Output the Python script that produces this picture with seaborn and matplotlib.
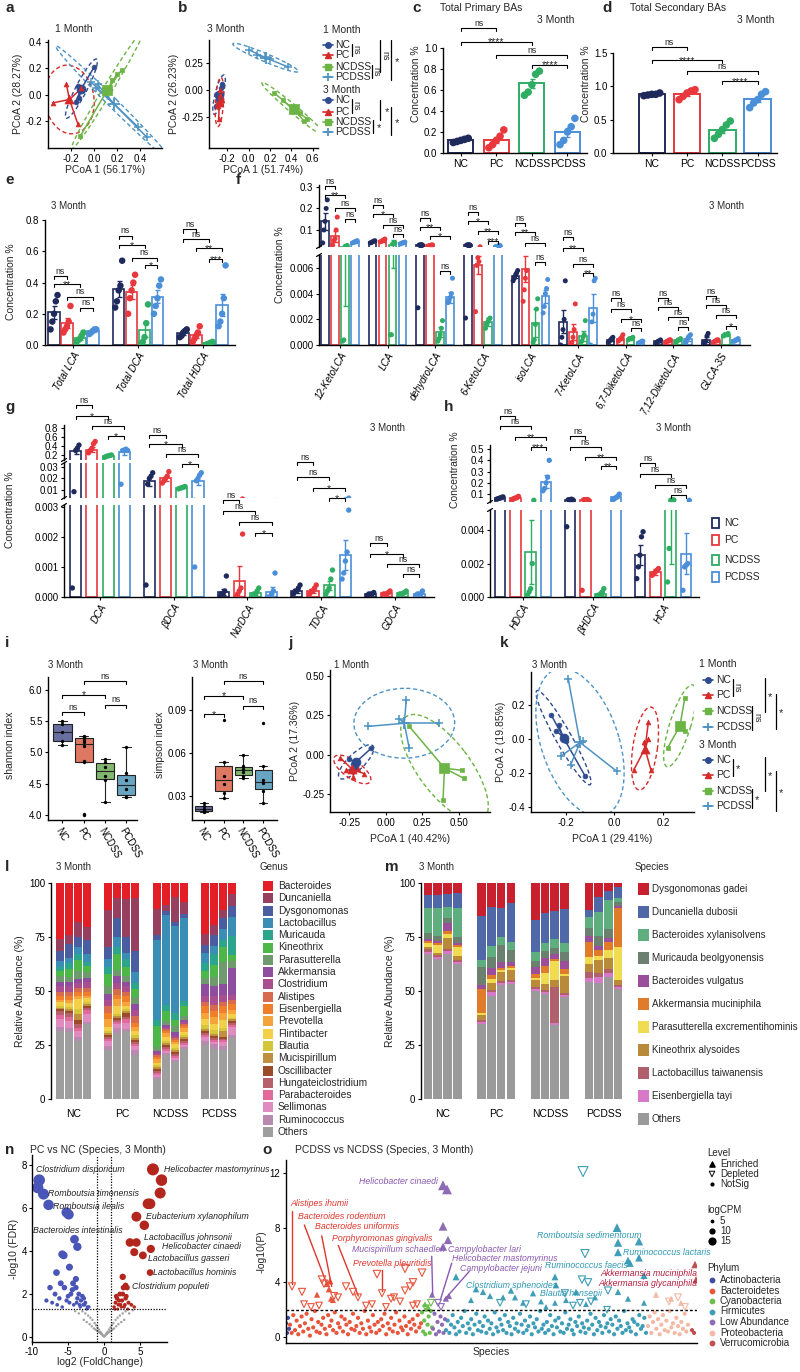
import numpy as np
import pandas as pd
import matplotlib
matplotlib.use("Agg")
import matplotlib.pyplot as plt
import matplotlib.transforms as mtransforms
from matplotlib.patches import Ellipse, Rectangle
import seaborn as sns

sns.set_theme(style="ticks")
plt.rcParams["font.family"] = ["Liberation Sans", "DejaVu Sans"]
plt.rcParams["axes.unicode_minus"] = False

# ============================ DATA ============================
GROUPS = ["NC", "PC", "NCDSS", "PCDSS"]

# a / b : PCoA of bile-acid profiles
a_pts = {
    "NC": [(0.00, 0.21), (-0.12, 0.03), (-0.16, -0.05), (-0.14, 0.07), (-0.13, -0.02)],
    "PC": [(-0.36, -0.06), (-0.14, -0.22), (-0.24, 0.08), (-0.11, 0.05), (-0.22, -0.02)],
    "NCDSS": [(-0.12, -0.31), (0.24, 0.19), (0.20, 0.16), (0.16, 0.11), (0.10, 0.04)],
    "PCDSS": [(0.46, -0.32), (0.38, -0.24), (0.03, 0.08), (-0.03, 0.10), (0.02, 0.05)],
}
b_pts = {
    "NC": [(-0.30, -0.15), (-0.25, 0.05), (-0.28, -0.05), (-0.26, 0.02), (-0.29, -0.10)],
    "PC": [(-0.28, -0.27), (-0.27, -0.05), (-0.29, -0.15), (-0.25, -0.10), (-0.27, 0.00)],
    "NCDSS": [(0.24, -0.03), (0.52, -0.29), (0.48, -0.22), (0.32, -0.10), (0.55, -0.27)],
    "PCDSS": [(0.00, 0.37), (0.37, 0.21), (0.15, 0.30), (0.08, 0.32), (0.20, 0.28)],
}

# c / d : total primary / secondary BAs
c_pts = {"NC": [0.10, 0.11, 0.12, 0.13, 0.14], "PC": [0.05, 0.08, 0.12, 0.16, 0.22],
         "NCDSS": [0.55, 0.58, 0.65, 0.75, 0.78], "PCDSS": [0.08, 0.12, 0.20, 0.25, 0.33]}
d_pts = {"NC": [0.86, 0.87, 0.88, 0.88, 0.90], "PC": [0.80, 0.85, 0.90, 0.93, 0.95],
         "NCDSS": [0.22, 0.28, 0.35, 0.42, 0.48], "PCDSS": [0.68, 0.75, 0.80, 0.88, 0.92]}
c_sig = ["ns", "****", "ns", "****"]
d_sig = ["ns", "****", "ns", "****"]

# e
e_labels = ["Total LCA", "Total DCA", "Total HDCA"]
e_pts = {
    "NC": [[0.10, 0.15, 0.20, 0.28, 0.32], [0.24, 0.28, 0.35, 0.38, 0.54], [0.05, 0.06, 0.08, 0.09, 0.10]],
    "PC": [[0.08, 0.10, 0.12, 0.15, 0.25], [0.20, 0.30, 0.35, 0.40, 0.45], [0.02, 0.04, 0.06, 0.08, 0.12]],
    "NCDSS": [[0.02, 0.03, 0.04, 0.06, 0.08], [0.01, 0.02, 0.05, 0.14, 0.26], [0.00, 0.005, 0.01, 0.015, 0.02]],
    "PCDSS": [[0.07, 0.08, 0.09, 0.10, 0.10], [0.20, 0.25, 0.30, 0.38, 0.42], [0.12, 0.15, 0.20, 0.30, 0.51]],
}
e_sig = [["ns", "**", "ns", "ns"], ["ns", "*", "ns", "*"], ["ns", "ns", "**", "***"]]

# f
f_labels = ["12-KetoLCA", "LCA", "dehydroLCA", "6-KetoLCA", "isoLCA", "7-KetoLCA",
            "6,7-DiketoLCA", "7,12-DiketoLCA", "GLCA-3S"]
f_mean = {"NC": [0.14, 0.045, 0.028, 0.028, 0.0054, 0.0018, 0.0004, 0.0003, 0.0004],
          "PC": [0.07, 0.050, 0.028, 0.0062, 0.0059, 0.0010, 0.0005, 0.0003, 0.0003],
          "NCDSS": [0.020, 0.030, 0.0010, 0.0018, 0.0017, 0.0007, 0.0005, 0.0004, 0.0008],
          "PCDSS": [0.045, 0.040, 0.0037, 0.025, 0.0038, 0.0029, 0.0002, 0.0005, 0.0004]}
f_err = {"NC": [0.04, 0.003, 0.005, 0.005, 0.0002, 0.0009, 0.0001, 0.0001, 0.0002],
         "PC": [0.025, 0.004, 0.002, 0.0007, 0.0010, 0.0006, 0.0001, 0.0001, 0.0001],
         "NCDSS": [0.017, 0.024, 0.0004, 0.0003, 0.0011, 0.0004, 0.0001, 0.0001, 0.0001],
         "PCDSS": [0.004, 0.004, 0.0004, 0.003, 0.0005, 0.0011, 0.0001, 0.0002, 0.0001]}
f_pts = {
    "NC": [[0.04, 0.10, 0.14, 0.20, 0.24], [0.040, 0.042, 0.045, 0.048, 0.050],
           [0.0029, 0.030, 0.031, 0.032, 0.030], [0.0021, 0.030, 0.031, 0.032, 0.030],
           [0.0050, 0.0052, 0.0054, 0.0056, 0.0058], [0.0000, 0.0006, 0.0012, 0.0020, 0.0050],
           [0.0002, 0.0003, 0.0004, 0.0005, 0.0006], [0.0001, 0.0002, 0.0003, 0.0003, 0.0004],
           [0.0001, 0.0002, 0.0003, 0.0007, 0.0009]],
    "PC": [[0.03, 0.05, 0.06, 0.10, 0.16], [0.045, 0.048, 0.050, 0.055, 0.058],
           [0.025, 0.027, 0.028, 0.030, 0.031], [0.0026, 0.0062, 0.0068, 0.0065, 0.022],
           [0.0034, 0.0043, 0.0052, 0.0058, 0.0080], [0.0000, 0.0002, 0.0006, 0.0012, 0.0032],
           [0.0003, 0.0004, 0.0005, 0.0006, 0.0008], [0.0002, 0.0003, 0.0003, 0.0004, 0.0004],
           [0.0002, 0.0003, 0.0003, 0.0004, 0.0004]],
    "NCDSS": [[0.0003, 0.0004, 0.022, 0.025, 0.028], [0.0008, 0.0008, 0.035, 0.038, 0.040],
              [0.0003, 0.0005, 0.0008, 0.0013, 0.0019], [0.0013, 0.0016, 0.0018, 0.0020, 0.0021],
              [0.0002, 0.0004, 0.0016, 0.0028, 0.0036], [0.0000, 0.0003, 0.0006, 0.0008, 0.0019],
              [0.0004, 0.0005, 0.0005, 0.0005, 0.0006], [0.0002, 0.0003, 0.0004, 0.0004, 0.0005],
              [0.0007, 0.0008, 0.0008, 0.0008, 0.0009]],
    "PCDSS": [[0.040, 0.043, 0.045, 0.048, 0.050], [0.035, 0.038, 0.040, 0.042, 0.044],
              [0.0033, 0.0035, 0.0037, 0.0040, 0.0052], [0.022, 0.024, 0.025, 0.026, 0.028],
              [0.0025, 0.0030, 0.0040, 0.0044, 0.0051], [0.0000, 0.0018, 0.0024, 0.0050, 0.0052],
              [0.0001, 0.0002, 0.0002, 0.0003, 0.0003], [0.0002, 0.0004, 0.0006, 0.0007, 0.0008],
              [0.0003, 0.0003, 0.0004, 0.0004, 0.0005]],
}
f_sig = [["ns", "**", "ns", "ns"], ["ns", "*", "ns", "ns"], ["ns", "**", "*", "ns"],
         ["ns", "*", "**", "***"], ["ns", "**", "ns", "ns"], ["ns", "**", "ns", "**"],
         ["ns", "ns", "*", "ns"], ["ns", "ns", "ns", "ns"], ["ns", "ns", "ns", "*"]]

# g
g_labels = ["DCA", "βDCA", "NorDCA", "TDCA", "GDCA"]
g_mean = {"NC": [0.28, 0.0175, 0.00018, 0.0002, 0.0001], "PC": [0.32, 0.020, 0.00052, 0.0002, 0.00012],
          "NCDSS": [0.18, 0.012, 0.00012, 0.0004, 0.00012], "PCDSS": [0.26, 0.018, 0.00018, 0.0014, 0.0001]}
g_err = {"NC": [0.06, 0.004, 0.0001, 0.00005, 0.00002], "PC": [0.05, 0.002, 0.0005, 0.00005, 0.00002],
         "NCDSS": [0.01, 0.0005, 0.00005, 0.00015, 0.00002], "PCDSS": [0.06, 0.004, 0.00015, 0.0005, 0.00003]}
g_pts = {
    "NC": [[0.0003, 0.0085, 0.30, 0.35, 0.42], [0.0004, 0.015, 0.020, 0.022, 0.025],
           [0.0, 0.0001, 0.0001, 0.0002, 0.0007], [0.0001, 0.0002, 0.0002, 0.0003, 0.0004],
           [0.00005, 0.0001, 0.0001, 0.0001, 0.00015]],
    "PC": [[0.25, 0.30, 0.35, 0.45, 0.50], [0.016, 0.018, 0.020, 0.022, 0.026],
           [0.0, 0.0001, 0.0002, 0.0003, 0.0021], [0.0001, 0.0002, 0.0002, 0.0003, 0.0004],
           [0.0001, 0.0001, 0.0001, 0.00015, 0.0002]],
    "NCDSS": [[0.15, 0.17, 0.18, 0.19, 0.20], [0.011, 0.0115, 0.012, 0.0125, 0.013],
              [0.0, 0.0001, 0.0001, 0.0002, 0.0003], [0.0001, 0.0002, 0.0003, 0.0006, 0.0009],
              [0.0001, 0.0001, 0.00012, 0.00015, 0.0002]],
    "PCDSS": [[0.015, 0.30, 0.31, 0.33, 0.30], [0.001, 0.018, 0.020, 0.023, 0.025],
              [0.0, 0.0, 0.0001, 0.0002, 0.0008], [0.0006, 0.0008, 0.0012, 0.0015, 0.0029],
              [0.00005, 0.0001, 0.0001, 0.0001, 0.0002]],
}
g_sig = [["ns", "*", "ns", "*"], ["ns", "*", "ns", "*"], ["ns", "ns", "ns", "*"],
         ["ns", "ns", "*", "*"], ["ns", "*", "ns", "ns"]]

# h
h_labels = ["HDCA", "βHDCA", "HCA"]
h_mean = {"NC": [0.065, 0.050, 0.0025], "PC": [0.065, 0.050, 0.0015],
          "NCDSS": [0.0027, 0.0002, 0.012], "PCDSS": [0.21, 0.075, 0.0026]}
h_err = {"NC": [0.005, 0.010, 0.0006], "PC": [0.006, 0.005, 0.0002],
         "NCDSS": [0.0019, 0.0001, 0.010], "PCDSS": [0.060, 0.010, 0.0012]}
h_pts = {
    "NC": [[0.055, 0.060, 0.065, 0.070, 0.075], [0.0042, 0.050, 0.050, 0.055, 0.048], [0.0011, 0.0018, 0.0025, 0.0036, 0.0039]],
    "PC": [[0.050, 0.060, 0.065, 0.070, 0.080], [0.0004, 0.050, 0.050, 0.052, 0.048], [0.0013, 0.0014, 0.0015, 0.0016, 0.0017]],
    "NCDSS": [[0.0001, 0.0003, 0.0005, 0.0020, 0.045], [0.0001, 0.0001, 0.0002, 0.0003, 0.0005], [0.0009, 0.0029, 0.045, 0.050, 0.048]],
    "PCDSS": [[0.13, 0.15, 0.20, 0.25, 0.40], [0.050, 0.060, 0.070, 0.080, 0.10], [0.0004, 0.0018, 0.0019, 0.0020, 0.045]],
}
h_sig = [["ns", "ns", "**", "***"], ["ns", "ns", "**", "**"], ["ns", "ns", "ns", "ns"]]

# i : alpha diversity
shannon = {"NC": [5.12, 5.18, 5.32, 5.45, 5.50],
           "PC": [4.00, 4.01, 4.84, 4.86, 5.10, 5.16, 5.20, 5.24, 5.25, 5.26],
           "NCDSS": [4.20, 4.55, 4.62, 4.77, 4.85, 4.89],
           "PCDSS": [4.28, 4.29, 4.41, 4.55, 4.67, 5.09]}
simpson = {"NC": [0.019, 0.020, 0.021, 0.023, 0.025],
           "PC": [0.0286, 0.032, 0.0384, 0.044, 0.0537, 0.083],
           "NCDSS": [0.043, 0.044, 0.047, 0.049, 0.051, 0.0586],
           "PCDSS": [0.025, 0.034, 0.039, 0.041, 0.051, 0.081]}
shannon_sig = [("ns", 0, 1, 5.64), ("*", 0, 2, 5.92), ("ns", 2, 3, 5.76), ("ns", 1, 3, 6.13)]
simpson_sig = [("*", 0, 1, 0.087), ("*", 0, 2, 0.100), ("ns", 2, 3, 0.093), ("ns", 1, 3, 0.110)]

# j / k : PCoA of microbiota
j_pts = {
    "NC": [(-0.10, 0.04), (-0.22, -0.06), (-0.25, -0.03), (-0.20, -0.08), (-0.24, -0.10)],
    "PC": [(-0.31, -0.02), (-0.15, -0.12), (-0.22, -0.14), (-0.27, -0.10), (-0.19, -0.09)],
    "NCDSS": [(0.16, 0.18), (0.52, -0.10), (0.53, -0.15), (0.39, -0.29), (0.40, -0.07)],
    "PCDSS": [(-0.12, 0.18), (0.14, 0.35), (0.16, 0.04), (0.36, 0.20), (0.09, 0.23)],
}
k_pts = {
    "NC": [(-0.26, 0.14), (-0.12, -0.22), (-0.23, 0.08), (-0.20, -0.01), (-0.24, 0.05)],
    "PC": [(0.14, 0.10), (0.08, -0.18), (0.15, -0.18), (0.12, -0.02), (0.14, 0.00)],
    "NCDSS": [(0.29, 0.24), (0.22, -0.05), (0.29, 0.05), (0.28, 0.07)],
    "PCDSS": [(-0.19, 0.35), (0.01, -0.19), (-0.22, -0.10), (-0.18, -0.15), (-0.13, -0.01)],
}

# l : genus composition (16 samples: NC1-4, PC1-4, NCDSS1-4, PCDSS1-4)
genus = {
    "Bacteroides": [29, 27, 21, 22, 13, 7, 8, 7, 13, 11, 7, 10, 26, 20, 15, 6],
    "Duncaniella": [6, 5, 8, 7, 18, 10, 20, 25, 13, 3, 13, 6, 6, 5, 4, 6],
    "Dysgonomonas": [5, 7, 5, 7, 6, 9, 8, 10, 2, 2, 2, 2, 4, 5, 6, 6],
    "Lactobacillus": [3, 3, 4, 4, 4, 5, 3, 5, 40, 45, 44, 43, 5, 4, 6, 10],
    "Muricauda": [2, 3, 3, 2, 3, 3, 4, 3, 3, 3, 4, 3, 4, 5, 4, 10],
    "Kineothrix": [3, 4, 6, 3, 6, 8, 5, 4, 10, 5, 3, 5, 4, 6, 8, 3],
    "Parasutterella": [3, 3, 4, 3, 4, 3, 3, 3, 2, 2, 3, 2, 3, 4, 12, 4],
    "Akkermansia": [2, 2, 2, 2, 3, 3, 2, 3, 1, 1, 2, 1, 6, 5, 6, 14],
    "Clostridium": [3, 3, 3, 3, 3, 3, 3, 3, 1, 1, 1, 1, 3, 4, 4, 3],
    "Alistipes": [2, 2, 2, 2, 3, 3, 2, 3, 1, 1, 1, 1, 2, 3, 2, 2],
    "Eisenbergiella": [2, 2, 2, 2, 3, 2, 3, 2, 1, 1, 1, 1, 4, 3, 4, 3],
    "Prevotella": [1, 2, 2, 1, 4, 3, 2, 2, 2, 2, 1, 2, 3, 3, 4, 2],
    "Flintibacter": [2, 2, 5, 2, 2, 4, 2, 2, 1, 2, 2, 2, 3, 3, 4, 2],
    "Blautia": [1, 1, 3, 1, 1, 1, 1, 1, 1, 1, 1, 1, 2, 2, 2, 1],
    "Mucispirillum": [1, 1, 3, 1, 1, 1, 1, 1, 1, 1, 1, 1, 1, 1, 3, 1],
    "Oscillibacter": [1, 1, 2, 1, 1, 1, 2, 1, 1, 1, 1, 1, 1, 1, 1, 1],
    "Hungateiclostridium": [2, 2, 2, 1, 1, 1, 1, 1, 1, 1, 1, 1, 1, 1, 1, 1],
    "Parabacteroides": [2, 2, 2, 2, 1, 1, 2, 1, 1, 1, 1, 1, 1, 1, 1, 1],
    "Sellimonas": [4, 4, 3, 4, 2, 2, 3, 2, 1, 1, 1, 1, 2, 1, 2, 4],
    "Ruminococcus": [2, 2, 2, 1, 2, 2, 1, 2, 1, 1, 1, 1, 2, 2, 2, 2],
    "Others": [35, 35, 31, 38, 24, 32, 35, 21, 10, 22, 19, 26, 28, 24, 27, 32],
}
# m : species composition
species = {
    "Dysgonomonas gadei": [6, 6, 5, 5, 16, 11, 12, 10, 17, 14, 15, 12, 14, 7, 4, 2],
    "Duncaniella dubosii": [6, 6, 6, 7, 22, 18, 14, 20, 15, 14, 15, 16, 4, 7, 4, 5],
    "Bacteroides xylanisolvens": [12, 14, 5, 14, 3, 5, 4, 4, 4, 4, 5, 4, 6, 12, 14, 2],
    "Muricauda beolgyonensis": [3, 2, 2, 3, 9, 5, 8, 6, 3, 3, 3, 4, 4, 5, 4, 2],
    "Bacteroides vulgatus": [1, 1, 4, 1, 2, 3, 3, 2, 3, 4, 3, 4, 3, 2, 2, 1],
    "Akkermansia muciniphila": [1, 1, 1, 1, 12, 2, 1, 1, 2, 3, 1, 2, 8, 3, 4, 18],
    "Parasutterella excrementihominis": [2, 4, 2, 4, 1, 2, 1, 1, 1, 5, 10, 1, 4, 2, 4, 16],
    "Kineothrix alysoides": [1, 1, 5, 2, 2, 3, 4, 5, 3, 3, 4, 8, 4, 6, 5, 2],
    "Lactobacillus taiwanensis": [1, 1, 1, 1, 1, 1, 1, 1, 1, 1, 19, 1, 3, 2, 2, 1],
    "Eisenbergiella tayi": [1, 1, 1, 1, 1, 2, 1, 1, 1, 1, 1, 1, 2, 3, 2, 1],
    "Others": [70, 68, 66, 65, 37, 47, 55, 58, 50, 49, 40, 47, 62, 57, 58, 52],
}

# n : volcano PC vs NC
n_ns_x = [-3.0, -2.6, -2.2, -1.9, -1.6, -1.3, -1.1, -0.9, -0.7, -0.5, -0.35, -0.2, -0.1, 0.0, 0.1, 0.2, 0.35,
          0.5, 0.7, 0.9, 1.1, 1.3, 1.6, 1.9, 2.2, 2.6, 3.0, -2.8, -2.4, -2.0, -1.7, -1.4, -1.2, -0.8, -0.6,
          -0.3, 0.3, 0.6, 0.8, 1.2, 1.4, 1.7, 2.0, 2.4, 2.8, -3.5, -4.0, 3.5, 4.0, -1.0, 1.0, -0.4, 0.4]
n_ns_y = [1.2, 1.1, 1.0, 0.9, 0.8, 0.65, 0.55, 0.45, 0.35, 0.25, 0.18, 0.10, 0.05, 0.02, 0.05, 0.10, 0.18,
          0.25, 0.35, 0.45, 0.55, 0.65, 0.8, 0.9, 1.0, 1.1, 1.2, 0.8, 0.7, 0.6, 0.5, 0.4, 0.35, 0.25, 0.2,
          0.12, 0.12, 0.2, 0.25, 0.35, 0.4, 0.5, 0.6, 0.7, 0.8, 1.1, 1.2, 1.1, 1.25, 0.3, 0.3, 0.15, 0.15]
n_dn_x = [-9.0, -9.2, -8.4, -7.7, -5.2, -4.9, -4.1, -3.7, -5.6, -5.8, -4.8, -6.6, -3.9, -4.3,
          -7.5, -6.8, -6.2, -5.5, -5.0, -4.4, -3.9, -3.5, -3.2, -2.9, -2.6, -2.3, -8.0, -7.2, -6.5,
          -5.8, -4.8, -4.2, -3.7, -3.3, -3.0, -2.7, -2.4, -2.1, -6.0, -5.2, -4.6, -3.8, -3.4, -2.8]
n_dn_y = [7.3, 6.95, 6.65, 6.15, 5.8, 5.7, 4.55, 4.2, 3.8, 3.85, 3.25, 3.0, 2.7, 2.5,
          2.3, 2.0, 1.8, 2.3, 1.9, 2.2, 2.3, 2.0, 1.7, 1.5, 1.6, 1.4, 1.7, 1.6, 1.5,
          1.4, 1.6, 1.5, 1.8, 1.4, 1.9, 1.5, 1.3, 1.4, 2.5, 1.7, 2.0, 1.6, 1.5, 1.8]
n_up_x = [6.8, 8.0, 7.8, 6.1, 6.4, 4.5, 5.6, 3.6, 4.5, 4.2, 6.5, 5.4, 6.4, 2.6, 3.0, 2.7, 3.2,
          1.4, 1.6, 1.8, 2.0, 2.2, 2.5, 2.8, 3.1, 3.4, 3.8, 4.2, 1.5, 1.9, 2.3, 2.6, 3.0, 1.7, 2.1, 2.4, 2.9, 3.3]
n_up_y = [7.8, 7.3, 6.7, 6.2, 6.2, 5.6, 5.2, 4.4, 4.4, 3.95, 4.1, 3.8, 3.0, 2.8, 2.4, 2.3, 2.3,
          1.4, 1.6, 1.8, 1.5, 2.0, 1.7, 1.4, 1.9, 1.6, 1.5, 1.4, 1.3, 1.3, 1.5, 2.0, 1.8, 1.9, 1.7, 1.4, 1.5, 1.3]
n_labels = [("Clostridium disporicum", -9.44, 7.81), ("Romboutsia timonensis", -7.78, 6.70),
            ("Romboutsia ilealis", -7.08, 6.09), ("Bacteroides intestinalis", -9.86, 4.98),
            ("Helicobacter mastomyrinus", 8.33, 7.81), ("Eubacterium xylanophilum", 5.83, 5.63),
            ("Lactobacillus johnsonii", 5.56, 4.65), ("Helicobacter cinaedi", 8.06, 4.19),
            ("Lactobacillus gasseri", 6.11, 3.67), ("Lactobacillus hominis", 6.81, 3.02),
            ("Clostridium populeti", 3.89, 2.37)]

# o : Manhattan plot PCDSS vs NCDSS
PHYLA = ["Actinobacteria", "Bacteroidetes", "Cyanobacteria", "Firmicutes",
         "Low Abundance", "Proteobacteria", "Verrucomicrobia"]
o_ns = {
    "Actinobacteria": [1.0, 0.3, 1.4, 0.6],
    "Bacteroidetes": [0.9, 0.3, 1.6, 0.5, 1.2, 0.2, 0.8, 1.5, 0.4, 1.0, 1.7, 0.6, 0.1, 1.3, 0.7, 1.9, 0.4, 1.1,
                      0.3, 0.9, 1.4, 0.6, 0.2, 1.6, 0.8, 1.2, 0.5, 1.8, 0.3, 1.0, 0.7, 1.5, 0.4, 1.3, 0.9, 0.2,
                      1.1, 0.6, 1.7, 0.5, 0.8, 1.4, 0.3, 1.0, 0.6, 1.9, 0.2, 1.2, 0.7, 0.4, 1.6, 0.9, 0.3, 1.1,
                      0.5, 1.3, 0.8, 1.7, 0.2, 1.0, 0.6, 1.4, 0.4, 0.9, 1.8, 0.3, 1.2, 0.7, 0.5, 1.5, 0.8, 0.2,
                      1.1, 0.6, 1.3, 0.9, 0.4, 1.6, 0.7, 1.0],
    "Cyanobacteria": [1.8, 0.4, 1.2, 0.2, 2.0, 0.9, 1.5, 0.3, 1.9, 0.7],
    "Low Abundance": [0.6, 1.7, 0.2, 1.1, 0.4, 1.5, 0.9, 0.3, 1.3],
    "Firmicutes": [0.5, 1.2, 0.3, 0.9, 1.6, 0.7, 0.2, 1.1, 0.4, 1.4, 0.8, 1.9, 0.3, 1.0, 0.6, 1.3, 0.2, 0.9,
                   1.7, 0.5, 1.1, 0.4, 0.8, 1.5, 0.3, 1.2, 0.6, 1.0, 0.2, 1.8, 0.7, 0.4, 1.3, 0.9, 0.5, 1.6,
                   0.3, 1.1, 0.8, 0.2, 1.4, 0.6, 1.0, 0.4, 1.7, 0.9, 0.3, 1.2, 0.5, 0.8, 1.5, 0.2, 1.0, 0.7,
                   1.3, 0.4, 1.9, 0.6, 0.9, 0.3, 1.1, 0.5, 1.6, 0.8, 0.2, 1.2, 0.7, 1.4, 0.4, 1.0, 0.3, 1.8,
                   0.6, 0.9, 1.3, 0.5, 0.2, 1.1, 0.8, 1.5, 0.4, 1.0, 0.7, 0.3, 1.2, 0.6, 1.7, 0.9, 0.2, 1.4,
                   0.5, 1.1, 0.8, 0.3, 1.6, 0.7, 1.0, 0.4, 1.3, 0.9, 0.2, 1.5, 0.6, 1.2, 0.8, 0.3, 1.9, 0.5,
                   1.0, 0.7, 0.4, 1.3, 1.1, 0.2, 0.9, 1.6, 0.6, 0.8, 1.4, 0.3],
    "Proteobacteria": [0.8, 1.5, 0.3, 1.1, 1.8, 0.6, 1.3, 0.2, 0.9, 1.6, 0.5, 1.2, 0.4, 1.9, 0.7, 1.0, 0.3,
                       1.4, 0.8, 0.2, 1.1, 0.6, 1.7, 0.4, 0.9],
    "Verrucomicrobia": [0.5, 0.3],
}
o_span = {"Actinobacteria": (0, 3), "Bacteroidetes": (4, 135), "Cyanobacteria": (136, 146),
          "Low Abundance": (147, 159), "Firmicutes": (160, 360), "Proteobacteria": (362, 402),
          "Verrucomicrobia": (406, 408)}
o_enr = {
    "Bacteroidetes": [(31, 3.1), (41, 3.9), (43, 3.5), (45, 2.8), (44, 4.1), (47, 2.7)],
    "Cyanobacteria": [(139, 2.4), (142, 2.2)],
    "Low Abundance": [(157, 11.1), (161, 10.8), (157, 8.1), (162, 7.1), (157, 6.6), (146, 3.1), (160, 2.8), (163, 3.0)],
    "Firmicutes": [(170, 4.4), (185, 2.7), (190, 3.5), (197, 3.3), (204, 3.0), (217, 2.9), (225, 3.4), (229, 2.9),
                   (237, 2.5), (247, 3.2), (255, 2.6), (260, 2.2), (269, 4.4), (270, 3.8), (269, 2.5), (280, 2.7),
                   (290, 3.3), (300, 2.4), (309, 2.9), (331, 8.0), (332, 6.9), (332, 6.2), (342, 5.6), (344, 5.4),
                   (353, 7.0), (353, 5.8), (358, 4.5), (332, 3.3), (342, 2.8), (358, 2.5)],
    "Proteobacteria": [(370, 3.1), (385, 2.8), (395, 2.5)],
    "Verrucomicrobia": [(409, 5.3), (410, 4.2)],
}
o_dep = {
    "Bacteroidetes": [(6, 3.7), (16, 3.3), (18, 2.4), (25, 2.2), (33, 2.3), (36, 4.2), (38, 3.9), (48, 3.0),
                      (52, 2.9), (60, 3.7), (67, 3.3), (72, 2.9), (80, 2.3), (86, 2.4), (91, 4.6), (96, 3.2),
                      (100, 2.2), (105, 2.8), (108, 2.9), (114, 2.6), (119, 5.0), (119, 3.4), (124, 3.7),
                      (127, 4.0), (127, 2.3), (131, 2.4), (136, 4.7)],
    "Cyanobacteria": [(145, 2.5), (140, 2.1)],
    "Low Abundance": [(152, 2.5), (155, 2.2)],
    "Firmicutes": [(214, 2.5), (240, 2.4), (279, 3.2), (287, 2.3), (294, 2.5), (296, 4.2), (297, 12.1),
                   (299, 6.1), (302, 4.0), (305, 2.6), (321, 2.0), (322, 3.4)],
    "Proteobacteria": [(383, 2.6), (392, 2.9), (399, 2.2)],
}
o_labels = [("Alistipes ihumii", 4, 9.8, "Bacteroidetes"), ("Bacteroides rodentium", 12.3, 8.8, "Bacteroidetes"),
            ("Bacteroides uniformis", 29, 8.05, "Bacteroidetes"),
            ("Porphyromonas gingivalis", 45.7, 7.2, "Bacteroidetes"),
            ("Prevotella pleuritidis", 67.3, 5.4, "Bacteroidetes"),
            ("Mucispirillum schaedleri", 65.7, 6.4, "Low Abundance"),
            ("Campylobacter lari", 162.3, 6.4, "Low Abundance"),
            ("Helicobacter mastomyrinus", 165.7, 5.75, "Low Abundance"),
            ("Campylobacter jejuni", 174, 5.0, "Low Abundance"),
            ("Clostridium sphenoides", 180, 3.8, "Firmicutes"), ("Blautia hansenii", 254, 3.2, "Firmicutes"),
            ("Romboutsia sedimentorum", 250.7, 7.45, "Firmicutes"),
            ("Ruminococcus lactaris", 337.3, 6.2, "Firmicutes"), ("Ruminococcus faecis", 259, 5.2, "Firmicutes"),
            ("Akkermansia muciniphila", 314, 4.65, "Verrucomicrobia"),
            ("Akkermansia glycaniphila", 312.3, 3.9, "Verrucomicrobia")]
o_leaders = [((5.7, 9.2), (5.7, 3.9), "Bacteroidetes"), ((18.3, 8.2), (40.7, 3.9), "Bacteroidetes"),
             ((35.7, 7.4), (45.7, 3.7), "Bacteroidetes"), ((52.3, 6.7), (72.3, 3.0), "Bacteroidetes"),
             ((95.7, 4.9), (95.7, 3.4), "Bacteroidetes"), ((145.7, 5.9), (146.7, 3.1), "Low Abundance"),
             ((165.7, 5.4), (154.3, 2.7), "Low Abundance"), ((183.3, 4.8), (158.0, 2.7), "Low Abundance")]

# ============================ STYLE ============================
PC_COLS = {"NC": "#2F4B8F", "PC": "#D62A2A", "NCDSS": "#6BB445", "PCDSS": "#4E93C4"}
PC_MK = {"NC": "o", "PC": "^", "NCDSS": "s", "PCDSS": "+"}
BAR_COLS = {"NC": "#1F2A5C", "PC": "#E8383D", "NCDSS": "#2EAD63", "PCDSS": "#4A8FD8"}
BOX_COLS = {"NC": "#5F67A8", "PC": "#F26A4F", "NCDSS": "#7CC363", "PCDSS": "#5AAAD0"}
GENUS_COLS = {"Bacteroides": "#E41E26", "Duncaniella": "#963F5E", "Dysgonomonas": "#4A5DA0",
              "Lactobacillus": "#3A8DB5", "Muricauda": "#2CA58D", "Kineothrix": "#4DB848",
              "Parasutterella": "#6E9A6E", "Akkermansia": "#8E4D9E", "Clostridium": "#A94E8E",
              "Alistipes": "#D66B4E", "Eisenbergiella": "#F07E2A", "Prevotella": "#F5A33B",
              "Flintibacter": "#F2D04A", "Blautia": "#D4C53B", "Mucispirillum": "#C09040",
              "Oscillibacter": "#9B4A2A", "Hungateiclostridium": "#B5606A", "Parabacteroides": "#E16A9A",
              "Sellimonas": "#E08CC0", "Ruminococcus": "#B98AB0", "Others": "#9E9E9E"}
SPEC_COLS = {"Dysgonomonas gadei": "#C8202E", "Duncaniella dubosii": "#5068A8",
             "Bacteroides xylanisolvens": "#5FAE80", "Muricauda beolgyonensis": "#6C8070",
             "Bacteroides vulgatus": "#9B4E9A", "Akkermansia muciniphila": "#E07B2A",
             "Parasutterella excrementihominis": "#F0DC50", "Kineothrix alysoides": "#B88A3A",
             "Lactobacillus taiwanensis": "#B0606A", "Eisenbergiella tayi": "#D878C8", "Others": "#9A9A9A"}
PHY_COLS = {"Actinobacteria": "#3D4F9E", "Bacteroidetes": "#E8563C", "Cyanobacteria": "#6CBF4D",
            "Firmicutes": "#3E9DB7", "Low Abundance": "#8E6BB5", "Proteobacteria": "#F4B9A4",
            "Verrucomicrobia": "#C0504D"}
PHY_TXT = {"Bacteroidetes": "#E0362C", "Low Abundance": "#8A58B0", "Firmicutes": "#2E98B3",
           "Verrucomicrobia": "#B71C3C"}
N_BLUE, N_RED = "#4A55B8", "#B3261E"
PAIRS = [(0, 1), (0, 2), (1, 3), (2, 3)]

W, H = 800, 1372
fig = plt.figure(figsize=(W / 100, H / 100), dpi=100)
ov = fig.add_axes([0, 0, 1, 1], zorder=20)
ov.set_xlim(0, W)
ov.set_ylim(H, 0)
ov.axis("off")


def axpx(l, t, r, b):
    return fig.add_axes([l / W, 1 - b / H, (r - l) / W, (b - t) / H])


def T(x, y, s, **kw):
    kw.setdefault("fontsize", 7.5)
    kw.setdefault("va", "center")
    ov.text(x, y, s, **kw)


def style(ax, left=True, bottom=True, fs=7):
    for sp in ["top", "right"]:
        ax.spines[sp].set_visible(False)
    ax.spines["left"].set_visible(left)
    ax.spines["bottom"].set_visible(bottom)
    for sp in ["left", "bottom"]:
        ax.spines[sp].set_color("black")
        ax.spines[sp].set_linewidth(1.0)
    ax.tick_params(labelsize=fs, length=2.5, width=0.8, pad=1.5, color="black", labelcolor="black")
    ax.set_facecolor("none")
    ax.grid(False)


def sig(ax, x1, x2, y, txt, tick, tr=None):
    tr = ax.transData if tr is None else tr
    ax.plot([x1, x1, x2, x2], [y - tick, y, y, y - tick], color="black", lw=0.8,
            transform=tr, clip_on=False, zorder=6)
    star = txt != "ns"
    ax.annotate(txt, xy=((x1 + x2) / 2, y), xycoords=tr, xytext=(0, -2.6 if star else 0.2),
                textcoords="offset points", ha="center", va="baseline" if star else "bottom",
                fontsize=7.5 if star else 6.3, annotation_clip=False, zorder=6)


def sig_px(ax, x1, x2, ypx, txt):
    tr = mtransforms.blended_transform_factory(ax.transData, ov.transData)
    sig(ax, x1, x2, ypx, txt, -2.5, tr)


def draw_bars(ax, centers, offsets, width, means, errs, pts, s, lw=1.2):
    centers = np.asarray(centers, dtype=float)
    for gi, g in enumerate(GROUPS):
        col = BAR_COLS[g]
        xs = centers + offsets[gi]
        ax.bar(xs, means[g], width=width, fill=False, edgecolor=col, linewidth=lw, zorder=2)
        ax.errorbar(xs, means[g], yerr=errs[g], fmt="none", ecolor=col, elinewidth=1.0,
                    capsize=1.8, capthick=1.0, zorder=3)
        px, py = [], []
        for x, vals in zip(xs, pts[g]):
            sp = np.linspace(-0.3, 0.3, len(vals)) * width
            px += list(x + sp)
            py += list(vals)
        sns.scatterplot(x=px, y=py, color=col, s=s, edgecolor="none", ax=ax, zorder=4, legend=False)
    ax.set_xlabel("")
    ax.set_ylabel("")


def broken(l, r, segs):
    axes = []
    for i, (t, b, yl, tk, tl) in enumerate(segs):
        ax = axpx(l, t, r, b)
        style(ax, bottom=(i == len(segs) - 1))
        ax.set_ylim(*yl)
        ax.set_yticks(tk)
        ax.set_yticklabels(tl)
        if i < len(segs) - 1:
            ax.tick_params(axis="x", bottom=False, labelbottom=False)
        axes.append(ax)
    for i in range(len(segs) - 1):
        for y in (segs[i][1], segs[i + 1][0]):
            ov.plot([l - 2.5, l + 2.5], [y + 1.5, y - 1.5], color="black", lw=0.9)
    return axes


def pcoa(ax, pts, k=2.2, s=12, cs=42):
    for g in GROUPS:
        P = np.array(pts[g], dtype=float)
        c = P.mean(axis=0)
        col = PC_COLS[g]
        for p in P:
            ax.plot([c[0], p[0]], [c[1], p[1]], color=col, lw=1.1, zorder=2)
        vals, vecs = np.linalg.eigh(np.cov(P.T))
        vals = np.clip(vals, 3e-4, None)
        ang = np.degrees(np.arctan2(vecs[1, 1], vecs[0, 1]))
        ax.add_patch(Ellipse(c, 2 * k * np.sqrt(vals[1]), 2 * k * np.sqrt(vals[0]), angle=ang,
                             fill=False, ec=col, lw=1.0, ls=(0, (3, 2)), zorder=1))
        if PC_MK[g] == "+":
            ax.scatter(P[:, 0], P[:, 1], marker="+", s=s * 2.5, color=col, linewidths=1.1, zorder=3)
            ax.scatter([c[0]], [c[1]], marker="+", s=cs * 2, color=col, linewidths=1.3, zorder=3)
        else:
            sns.scatterplot(x=P[:, 0], y=P[:, 1], marker=PC_MK[g], s=s, color=col, edgecolor=col,
                            linewidth=0.5, ax=ax, zorder=3, legend=False)
            sns.scatterplot(x=[c[0]], y=[c[1]], marker=PC_MK[g], s=cs, color=col, edgecolor=col,
                            linewidth=0.5, ax=ax, zorder=3, legend=False)
    ax.set_xlabel("")
    ax.set_ylabel("")


def leg_item(xm, xt, y, g, fs=7.5):
    col = PC_COLS[g]
    ov.plot([xm - 5, xm + 5], [y, y], color=col, lw=1.2)
    if PC_MK[g] == "+":
        ov.plot([xm], [y], marker="+", ms=6, color=col, mew=1.3)
    else:
        ov.plot([xm], [y], marker=PC_MK[g], ms=4, color=col)
    T(xt, y, g, fontsize=fs)


def vbr(x, y1, y2, txt, xt):
    ov.plot([x, x], [y1, y2], color="black", lw=0.9)
    if txt == "ns":
        T(xt, (y1 + y2) / 2, "ns", fontsize=6.5, rotation=270, ha="center")
    else:
        T(xt, (y1 + y2) / 2 + 2, "*", fontsize=8, ha="center")


# ============================ PANELS ============================
for s_, x_, y_ in [("a", 5, 8), ("b", 178, 8), ("c", 412, 8), ("d", 602, 8), ("e", 5, 180), ("f", 236, 180),
                   ("g", 5, 407), ("h", 444, 407), ("i", 5, 643), ("j", 288, 643), ("k", 500, 643),
                   ("l", 5, 867), ("m", 385, 867), ("n", 5, 1150), ("o", 262, 1150)]:
    T(x_, y_, s_, fontsize=11, fontweight="bold")

# ---- a ----
ax = axpx(48, 40, 162, 148)
style(ax)
pcoa(ax, a_pts)
ax.set_xlim(-0.40, 0.59)
ax.set_ylim(-0.40, 0.415)
ax.set_xticks([-0.2, 0, 0.2, 0.4])
ax.set_xticklabels(["-0.2", "0.0", "0.2", "0.4"])
ax.set_yticks([-0.2, 0, 0.2, 0.4])
ax.set_yticklabels(["-0.2", "0.0", "0.2", "0.4"])
ax.set_xlabel("PCoA 1 (56.17%)", fontsize=7.5, labelpad=1)
ax.set_ylabel("PCoA 2 (28.27%)", fontsize=7.5, labelpad=2)
T(55, 29, "1 Month")

# ---- b ----
ax = axpx(209, 40, 318, 148)
style(ax)
pcoa(ax, b_pts)
ax.set_xlim(-0.37, 0.65)
ax.set_ylim(-0.54, 0.46)
ax.set_xticks([-0.2, 0, 0.2, 0.4, 0.6])
ax.set_xticklabels(["-0.2", "0.0", "0.2", "0.4", "0.6"])
ax.set_yticks([-0.25, 0, 0.25])
ax.set_yticklabels(["-0.25", "0.00", "0.25"])
ax.set_xlabel("PCoA 1 (51.74%)", fontsize=7.5, labelpad=1)
ax.set_ylabel("PCoA 2 (26.23%)", fontsize=7.5, labelpad=2)
T(207, 29, "3 Month")
T(323, 30, "1 Month")
T(323, 90, "3 Month")
for g, y in zip(GROUPS, [45, 55, 67, 77]):
    leg_item(328, 335, y, g)
for g, y in zip(GROUPS, [100, 112, 122, 132]):
    leg_item(328, 335, y, g)
vbr(352, 44, 56, "ns", 356)
vbr(372, 65, 78, "ns", 376)
vbr(380, 40, 72, "ns", 385)
vbr(391, 40, 80, "*", 397)
vbr(352, 99, 113, "ns", 356)
vbr(373, 120, 133, "*", 379)
vbr(380, 100, 120, "*", 387)
vbr(391, 107, 135, "*", 397)

# ---- c ----
ax = axpx(443, 15, 587, 153)
style(ax)
draw_bars(ax, [0], [0, 1, 2, 3], 0.7, {g: [np.mean(c_pts[g])] for g in GROUPS},
          {g: [np.std(c_pts[g], ddof=1) / np.sqrt(len(c_pts[g]))] for g in GROUPS},
          {g: [c_pts[g]] for g in GROUPS}, s=30, lw=1.4)
ax.set_xlim(-0.5, 3.55)
ax.set_ylim(0, 1.314)
ax.spines["left"].set_bounds(0, 1.0)
ax.set_yticks([0, 0.2, 0.4, 0.6, 0.8, 1.0])
ax.set_yticklabels(["0.0", "0.2", "0.4", "0.6", "0.8", "1.0"])
ax.set_xticks(range(4))
ax.set_xticklabels(GROUPS, fontsize=7.5)
ax.set_ylabel("Concentration %", fontsize=7.5, labelpad=2)
for (a_, b_), t_, y_ in zip(PAIRS, c_sig, [1.19, 1.06, 0.93, 0.84]):
    sig(ax, a_, b_, y_, t_, 3 / 105)
T(440, 8, "Total Primary BAs")
T(537, 20, "3 Month")

# ---- d ----
ax = axpx(613, 15, 777, 153)
style(ax)
draw_bars(ax, [0], [0, 1, 2, 3], 0.75, {g: [np.mean(d_pts[g])] for g in GROUPS},
          {g: [np.std(d_pts[g], ddof=1) / np.sqrt(len(d_pts[g]))] for g in GROUPS},
          {g: [d_pts[g]] for g in GROUPS}, s=30, lw=1.4)
ax.set_xlim(-1.1, 3.55)
ax.set_ylim(0, 2.07)
ax.spines["left"].set_bounds(0, 1.5)
ax.set_yticks([0, 0.5, 1.0, 1.5])
ax.set_yticklabels(["0.0", "0.5", "1.0", "1.5"])
ax.set_xticks(range(4))
ax.set_xticklabels(GROUPS, fontsize=7.5)
ax.set_ylabel("Concentration %", fontsize=7.5, labelpad=2)
for (a_, b_), t_, y_ in zip(PAIRS, d_sig, [1.59, 1.39, 1.23, 1.08]):
    sig(ax, a_, b_, y_, t_, 3 / 66.7)
T(630, 8, "Total Secondary BAs")
T(737, 20, "3 Month")

# ---- e ----
OFF4 = np.array([-0.3, -0.1, 0.1, 0.3])
ax = axpx(45, 200, 235, 345)
style(ax)
draw_bars(ax, [0, 1, 2], OFF4, 0.18, {g: [np.mean(v) for v in e_pts[g]] for g in GROUPS},
          {g: [np.std(v, ddof=1) / np.sqrt(len(v)) for v in e_pts[g]] for g in GROUPS}, e_pts, s=22)
ax.set_xlim(-0.44, 2.5)
ax.set_ylim(0, 0.929)
ax.spines["left"].set_bounds(0, 0.8)
ax.set_yticks([0, 0.2, 0.4, 0.6, 0.8])
ax.set_yticklabels(["0.0", "0.2", "0.4", "0.6", "0.8"])
ax.set_xticks([0, 1, 2])
ax.set_xticklabels(e_labels, rotation=60, ha="right", rotation_mode="anchor", fontstyle="italic", fontsize=7)
e_y = [[0.44, 0.39, 0.31, 0.24], [0.70, 0.64, 0.56, 0.51], [0.74, 0.68, 0.62, 0.55]]
for j in range(3):
    for p, (a_, b_) in enumerate(PAIRS):
        sig(ax, j + OFF4[a_], j + OFF4[b_], e_y[j][p], e_sig[j][p], 3 / 156)
T(51, 206, "3 Month", fontsize=7)
T(11, 282, "Concentration %", rotation=90, ha="center")

# ---- f ----
OFFF = np.array([-0.315, -0.105, 0.105, 0.315])
fa = broken(319, 750, [(185, 247, (0.0209, 0.309), [0.1, 0.2, 0.3], ["0.1", "0.2", "0.3"]),
                       (255, 345, (0, 0.00701), [0, 0.002, 0.004, 0.006],
                        ["0.000", "0.002", "0.004", "0.006"])])
for ax in fa:
    draw_bars(ax, np.arange(9), OFFF, 0.16, f_mean, f_err, f_pts, s=13)
    ax.set_xlim(-0.441, 8.613)
fa[-1].set_xticks(np.arange(9))
fa[-1].set_xticklabels(f_labels, rotation=60, ha="right", rotation_mode="anchor", fontstyle="italic", fontsize=7)
f_y = [[186, 195, 208, 219], [205, 214, 225, 234], [218, 227, 236, 271], [212, 221, 231, 241],
       [223, 232, 243, 262], [237, 248, 264, 273], [298, 309, 319, 328], [298, 307, 317, 327],
       [296, 305, 315, 326]]
for j in range(9):
    for p, (a_, b_) in enumerate(PAIRS):
        sig_px(fa[-1], j + OFFF[a_], j + OFFF[b_], f_y[j][p], f_sig[j][p])
T(709, 206, "3 Month", fontsize=7)
T(280, 265, "Concentration %", rotation=90, ha="center")

# ---- g ----
OFFG = np.array([-0.33, -0.11, 0.11, 0.33])
ga = broken(64, 434, [(425, 460, (0.089, 0.867), [0.2, 0.4, 0.6, 0.8], ["0.2", "0.4", "0.6", "0.8"]),
                      (463, 498, (0.003, 0.0335), [0.01, 0.02, 0.03], ["0.01", "0.02", "0.03"]),
                      (505, 597, (0, 0.00307), [0, 0.001, 0.002, 0.003],
                       ["0.000", "0.001", "0.002", "0.003"])])
for ax in ga:
    draw_bars(ax, np.arange(5), OFFG, 0.15, g_mean, g_err, g_pts, s=15)
    ax.set_xlim(-0.488, 4.532)
ga[-1].set_xticks(np.arange(5))
ga[-1].set_xticklabels(g_labels, rotation=60, ha="right", rotation_mode="anchor", fontstyle="italic", fontsize=7)
g_y = [[405, 416, 426, 436], [435, 444, 454, 464], [500, 511, 522, 533], [462, 477, 488, 498],
       [543, 554, 564, 574]]
for j in range(5):
    for p, (a_, b_) in enumerate(PAIRS):
        sig_px(ga[-1], j + OFFG[a_], j + OFFG[b_], g_y[j][p], g_sig[j][p])
T(370, 428, "3 Month", fontsize=7)
T(10, 510, "Concentration %", rotation=90, ha="center")

# ---- h ----
ha_ = broken(490, 699, [(445, 502, (0.03, 0.536), [0.1, 0.2, 0.3, 0.4, 0.5], ["0.1", "0.2", "0.3", "0.4", "0.5"]),
                        (510, 597, (0, 0.0052), [0, 0.002, 0.004], ["0.000", "0.002", "0.004"])])
for ax in ha_:
    draw_bars(ax, np.arange(3), OFFG, 0.15, h_mean, h_err, h_pts, s=15)
    ax.set_xlim(-0.471, 2.514)
ha_[-1].set_xticks(np.arange(3))
ha_[-1].set_xticklabels(h_labels, rotation=60, ha="right", rotation_mode="anchor", fontstyle="italic", fontsize=7)
h_y = [[416, 426, 437, 447], [436, 447, 457, 466], [463, 474, 485, 495]]
for j in range(3):
    for p, (a_, b_) in enumerate(PAIRS):
        sig_px(ha_[-1], j + OFFG[a_], j + OFFG[b_], h_y[j][p], h_sig[j][p])
T(656, 428, "3 Month", fontsize=7)
T(455, 470, "Concentration %", rotation=90, ha="center")
for g, y in zip(GROUPS, [523, 540, 560, 577]):
    ov.add_patch(Rectangle((712, y - 5), 7, 10, fill=False, ec=BAR_COLS[g], lw=1.3))
    T(724, y, g, fontsize=7.5)


# ---- i ----
def box_panel(rect, data, ylim, xlim, ticks, ticklabels, sigs, tick_h, ylabel, ylab_x):
    ax = axpx(*rect)
    style(ax)
    df = pd.DataFrame([(g, v) for g in GROUPS for v in data[g]], columns=["grp", "val"])
    sns.boxplot(data=df, x="grp", y="val", hue="grp", order=GROUPS, hue_order=GROUPS, palette=BOX_COLS,
                width=0.85, linewidth=0.8, linecolor="#222222", showfliers=False, legend=False, ax=ax)
    sns.stripplot(data=df, x="grp", y="val", order=GROUPS, color="black", size=2.4, jitter=False, ax=ax)
    ax.set_xlim(*xlim)
    ax.set_ylim(*ylim)
    ax.set_yticks(ticks)
    ax.set_yticklabels(ticklabels)
    ax.set_xticks(range(4))
    ax.set_xticklabels(GROUPS, rotation=-60, ha="left", rotation_mode="anchor", fontsize=7)
    ax.set_xlabel("")
    ax.set_ylabel("")
    for t_, a_, b_, y_ in sigs:
        sig(ax, a_, b_, y_, t_, tick_h)
    T(ylab_x, 745, ylabel, rotation=90, ha="center")
    return ax


box_panel((48, 677, 137, 820), shannon, (3.92, 6.2), (-0.68, 3.5), [4.0, 4.5, 5.0, 5.5, 6.0],
          ["4.0", "4.5", "5.0", "5.5", "6.0"], shannon_sig, 0.048, "shannon index", 10)
box_panel((192, 677, 277, 820), simpson, (0.0135, 0.113), (-0.6, 3.7), [0.03, 0.06, 0.09],
          ["0.03", "0.06", "0.09"], simpson_sig, 0.0021, "simpson index", 160)
T(48, 665, "3 Month", fontsize=7)
T(193, 665, "3 Month", fontsize=7)

# ---- j ----
ax = axpx(330, 670, 490, 812)
style(ax)
pcoa(ax, j_pts, k=2.0)
ax.set_xlim(-0.38, 0.71)
ax.set_ylim(-0.365, 0.539)
ax.set_xticks([-0.25, 0, 0.25, 0.5])
ax.set_xticklabels(["-0.25", "0.00", "0.25", "0.50"])
ax.set_yticks([-0.25, 0, 0.25, 0.5])
ax.set_yticklabels(["-0.25", "0.00", "0.25", "0.50"])
ax.set_xlabel("PCoA 1 (40.42%)", fontsize=7.5, labelpad=5)
ax.set_ylabel("PCoA 2 (17.36%)", fontsize=7.5, labelpad=2)
T(334, 665, "1 Month", fontsize=7)

# ---- k ----
ax = axpx(531, 672, 694, 812)
style(ax)
pcoa(ax, k_pts, k=2.0)
ax.set_xlim(-0.344, 0.328)
ax.set_ylim(-0.429, 0.394)
ax.set_xticks([-0.2, 0, 0.2])
ax.set_xticklabels(["-0.2", "0.0", "0.2"])
ax.set_yticks([-0.4, -0.2, 0, 0.2])
ax.set_yticklabels(["-0.4", "-0.2", "0.0", "0.2"])
ax.set_xlabel("PCoA 1 (29.41%)", fontsize=7.5, labelpad=5)
ax.set_ylabel("PCoA 2 (19.85%)", fontsize=7.5, labelpad=2)
T(532, 665, "3 Month", fontsize=7)
T(699, 664, "1 Month", fontsize=7.5)
T(699, 745, "3 Month", fontsize=7.5)
for g, y in zip(GROUPS, [680, 695, 711, 727]):
    leg_item(708, 716, y, g)
for g, y in zip(GROUPS, [760, 775, 791, 806]):
    leg_item(708, 716, y, g)
vbr(733, 679, 696, "ns", 737)
vbr(752, 706, 730, "ns", 757)
vbr(765, 678, 712, "*", 770)
vbr(776, 694, 729, "*", 781)
vbr(733, 759, 776, "*", 738)
vbr(752, 789, 808, "*", 757)
vbr(765, 757, 791, "*", 770)
vbr(776, 771, 811, "*", 781)


# ---- l / m ----
def stacked(rect, data, cols, gap, xlim, width=0.88):
    ax = axpx(*rect)
    style(ax, bottom=False)
    names = list(data.keys())
    df = pd.DataFrame(data)[names]
    df = df.div(df.sum(axis=1), axis=0) * 100
    xs = np.array([g * gap + s for g in range(4) for s in range(4)], dtype=float)
    bottom = np.zeros(len(df))
    for name in names[::-1]:
        ax.bar(xs, df[name].values, bottom=bottom, width=width, color=cols[name], linewidth=0)
        bottom += df[name].values
    ax.set_xlim(*xlim)
    ax.set_ylim(0, 100)
    ax.set_yticks([0, 25, 50, 75, 100])
    ax.set_xticks([g * gap + 1.5 for g in range(4)])
    ax.set_xticklabels(GROUPS, fontsize=7.5)
    ax.tick_params(axis="x", length=0, pad=7)
    ax.set_ylabel("Relative Abundance (%)", fontsize=7.5, labelpad=3)
    return ax


stacked((51, 883, 240, 1099), genus, GENUS_COLS, 5.37, (-1.0, 20.0))
T(56, 867, "3 Month", fontsize=7)
T(260, 867, "Genus", fontsize=7)
for i, name in enumerate(genus.keys()):
    y = 886 + 12.3 * i
    ov.add_patch(Rectangle((263, y - 5), 10, 10, color=GENUS_COLS[name], lw=0))
    T(278, y, name, fontsize=7.3)

stacked((421, 883, 625, 1099), species, SPEC_COLS, 5.5, (-0.72, 20.2))
T(419, 867, "3 Month", fontsize=7)
T(635, 867, "Species", fontsize=7)
for i, name in enumerate(species.keys()):
    y = 889 + 23 * i
    ov.add_patch(Rectangle((638, y - 6), 11, 12, color=SPEC_COLS[name], lw=0))
    T(652, y, name, fontsize=7.1)

# ---- n ----
ax = axpx(32, 1155, 167, 1342)
style(ax)
ax.tick_params(pad=1)
sns.scatterplot(x=n_ns_x, y=n_ns_y, color="#A0A0A0", s=3, edgecolor="none", ax=ax, legend=False)
sns.scatterplot(x=n_dn_x, y=n_dn_y, size=n_dn_y, sizes=(5, 75), size_norm=(1.3, 7.8), color=N_BLUE,
                edgecolor="none", ax=ax, legend=False)
sns.scatterplot(x=n_up_x, y=n_up_y, size=n_up_y, sizes=(5, 75), size_norm=(1.3, 7.8), color=N_RED,
                edgecolor="none", ax=ax, legend=False)
ax.axhline(1.3, color="black", ls=(0, (1, 1.2)), lw=0.9)
ax.axvline(-1, color="black", ls=(0, (1, 1.2)), lw=0.9)
ax.axvline(1, color="black", ls=(0, (1, 1.2)), lw=0.9)
for t_, x_, y_ in n_labels:
    ax.text(x_, y_, t_, fontsize=6.3, fontstyle="italic", va="center", ha="left", color="#222222")
ax.set_xlim(-10, 8.75)
ax.set_ylim(-0.23, 8.47)
ax.set_xticks([-10, -5, 0, 5])
ax.set_yticks([0, 2, 4, 6, 8])
ax.set_xlabel("log2 (FoldChange)", fontsize=7.5, labelpad=0)
ax.set_ylabel("-log10 (FDR)", fontsize=7.5, labelpad=2)
T(30, 1150, "PC vs NC (Species, 3 Month)")

# ---- o ----
ax = axpx(286, 1160, 697, 1343)
style(ax)
for ph in PHYLA:
    ys = o_ns[ph]
    lo, hi = o_span[ph]
    xs = np.linspace(lo, hi, len(ys))
    sns.scatterplot(x=xs, y=ys, color=PHY_COLS[ph], s=9, edgecolor="none", ax=ax, legend=False)
for ph, pts in o_enr.items():
    P = np.array(pts, dtype=float)
    sns.scatterplot(x=P[:, 0], y=P[:, 1], marker="^", size=P[:, 1], sizes=(16, 55), size_norm=(2, 12),
                    color=PHY_COLS[ph], edgecolor="none", ax=ax, legend=False)
for ph, pts in o_dep.items():
    P = np.array(pts, dtype=float)
    ax.scatter(P[:, 0], P[:, 1], marker="v", s=16 + 3 * P[:, 1], facecolors="none",
               edgecolors=PHY_COLS[ph], linewidths=0.8, zorder=3)
ax.axhline(2, color="black", ls=(0, (2, 1.5)), lw=1.0)
for (p0, p1, ph) in o_leaders:
    ax.plot([p0[0], p1[0]], [p0[1], p1[1]], color=PHY_TXT[ph], lw=1.0)
for t_, x_, y_, ph in o_labels:
    ax.text(x_, y_, t_, fontsize=6.3, fontstyle="italic", color=PHY_TXT[ph], va="center", ha="left")
ax.text(152, 11.4, "Helicobacter cinaedi", fontsize=6.3, fontstyle="italic", color=PHY_TXT["Low Abundance"],
        va="center", ha="right")
ax.set_xlim(0, 411)
ax.set_ylim(-0.44, 12.95)
ax.set_xticks([])
ax.set_yticks([0, 4, 8, 12])
ax.set_xlabel("Species", fontsize=7.5, labelpad=3)
ax.set_ylabel("-log10(P)", fontsize=7.5, labelpad=2)
T(295, 1150, "PCDSS vs NCDSS (Species, 3 Month)")

T(707, 1153, "Level", fontsize=7)
ov.scatter([712], [1164], marker="^", s=14, c="black")
ov.scatter([712], [1174], marker="v", s=16, facecolors="none", edgecolors="black", linewidths=0.7)
ov.scatter([712], [1184], marker="o", s=4, c="black")
for t_, y_ in [("Enriched", 1164), ("Depleted", 1174), ("NotSig", 1184)]:
    T(720, y_, t_, fontsize=7)
T(707, 1210, "logCPM", fontsize=7)
for t_, y_, s_ in [("5", 1221, 3), ("10", 1231, 12), ("15", 1241, 24)]:
    ov.scatter([712], [y_], s=s_, c="black")
    T(720, y_, t_, fontsize=7)
T(707, 1268, "Phylum", fontsize=7)
for i, ph in enumerate(PHYLA):
    y = 1280 + 10.5 * i
    ov.scatter([712], [y], s=10, color=PHY_COLS[ph])
    T(720, y, ph, fontsize=7)

fig.savefig("out.png", dpi=100)
